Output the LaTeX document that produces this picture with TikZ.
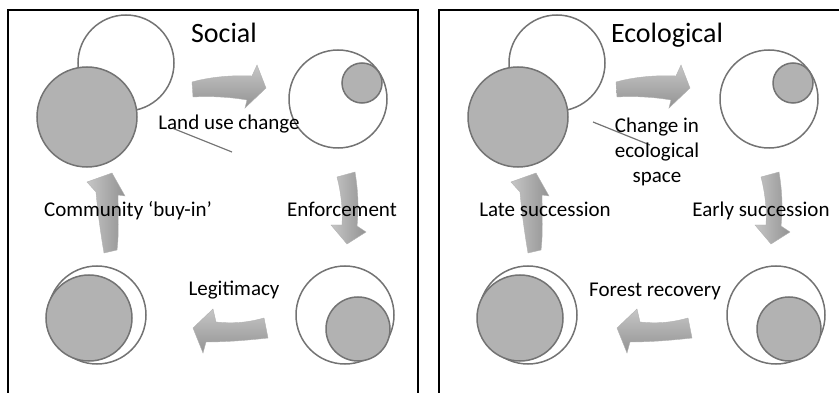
\documentclass[tikz,border=0pt]{standalone}
\usepackage{fontspec}
\setmainfont{Carlito}

\definecolor{rimgray}{gray}{0.45}
\definecolor{blobgray}{gray}{0.70}

\begin{document}
\begin{tikzpicture}[x=1pt, y=-1pt,
    frame/.style={draw=black, line width=1.6pt},
    ring/.style={draw=rimgray, line width=1.5pt, fill=white},
    blob/.style={draw=rimgray, line width=1.5pt, fill=blobgray},
    hbend/.style={draw=gray!60, line width=0.4pt, top color=gray!45, middle color=white, bottom color=gray!85},
    vbend/.style={draw=gray!60, line width=0.4pt, left color=gray!45, middle color=white, right color=gray!85},
    txt/.style={font=\fontsize{21}{25}\selectfont, anchor=base},
    head/.style={font=\fontsize{28}{32}\selectfont, anchor=base}]

    \useasboundingbox (0,0) rectangle (839,393);

    % Draw panel frames
    \draw[frame] (8,393) -- (8,10) -- (418,10) -- (418,393);
    \draw[frame] (439,393) -- (439,10) -- (839,10);

    % Define coordinates
    \coordinate (soc1a) at (126,63);
    \coordinate (soc1b) at (87,117);
    \coordinate (soc2a) at (338,99);
    \coordinate (soc2b) at (362,83);
    \coordinate (soc3a) at (345,315);
    \coordinate (soc3b) at (358,329);
    \coordinate (soc4a) at (97,315);
    \coordinate (soc4b) at (89,318);
    \coordinate (eco1a) at (557,63);
    \coordinate (eco1b) at (518,117);
    \coordinate (eco2a) at (769,99);
    \coordinate (eco2b) at (793,83);
    \coordinate (eco3a) at (776,315);
    \coordinate (eco3b) at (789,329);
    \coordinate (eco4a) at (528,315);
    \coordinate (eco4b) at (520,318);
    \coordinate (socl1) at (172,128);
    \coordinate (socl2) at (232,152);
    \coordinate (ecol1) at (593,122);
    \coordinate (ecol2) at (650,145);

    % Draw circles, social side
    \filldraw[ring] (soc1a) circle (48pt);
    \filldraw[blob] (soc1b) circle (50pt);
    \filldraw[ring] (soc2a) circle (49pt);
    \filldraw[blob] (soc2b) circle (20pt);
    \filldraw[ring] (soc3a) circle (49pt);
    \filldraw[blob] (soc3b) circle (32pt);
    \filldraw[ring] (soc4a) circle (49pt);
    \filldraw[blob] (soc4b) circle (43pt);

    % Draw circles, ecological side
    \filldraw[ring] (eco1a) circle (48pt);
    \filldraw[blob] (eco1b) circle (50pt);
    \filldraw[ring] (eco2a) circle (49pt);
    \filldraw[blob] (eco2b) circle (20pt);
    \filldraw[ring] (eco3a) circle (49pt);
    \filldraw[blob] (eco3b) circle (32pt);
    \filldraw[ring] (eco4a) circle (49pt);
    \filldraw[blob] (eco4b) circle (43pt);

    % Stray lines
    \draw[rimgray, line width=1.2pt] (socl1) -- (socl2);
    \draw[rimgray, line width=1.2pt] (ecol1) -- (ecol2);

    % Block arrows, social side
    \begin{scope}
        \shade[hbend] (192,82) .. controls (210,77) and (232,75) .. (252,76) -- (257,65) -- (266,88)
            -- (245,108) -- (247,100) .. controls (230,97) and (210,96) .. (193,97) -- cycle;
        \shade[vbend] (337,177) -- (355,172) .. controls (358,190) and (359,208) .. (357,226) -- (366,232)
            -- (347,244) -- (331,225) -- (342,225) .. controls (343,210) and (341,192) .. (337,177) -- cycle;
        \shade[hbend] (193,328) -- (213,309) -- (216,322) .. controls (235,324) and (250,322) .. (264,318)
            -- (268,338) .. controls (250,340) and (228,342) .. (206,342) -- (203,353) -- cycle;
        \shade[vbend] (112,173) -- (125,196) -- (118,195) .. controls (118,215) and (119,235) .. (117,250)
            -- (104,253) .. controls (101,235) and (98,215) .. (96,192) -- (87,182) -- cycle;
    \end{scope}

    % Block arrows, ecological side
    \begin{scope}[xshift=424pt]
        \shade[hbend] (192,82) .. controls (210,77) and (232,75) .. (252,76) -- (257,65) -- (266,88)
            -- (245,108) -- (247,100) .. controls (230,97) and (210,96) .. (193,97) -- cycle;
        \shade[vbend] (337,177) -- (355,172) .. controls (358,190) and (359,208) .. (357,226) -- (366,232)
            -- (347,244) -- (331,225) -- (342,225) .. controls (343,210) and (341,192) .. (337,177) -- cycle;
        \shade[hbend] (193,328) -- (213,309) -- (216,322) .. controls (235,324) and (250,322) .. (264,318)
            -- (268,338) .. controls (250,340) and (228,342) .. (206,342) -- (203,353) -- cycle;
        \shade[vbend] (112,173) -- (125,196) -- (118,195) .. controls (118,215) and (119,235) .. (117,250)
            -- (104,253) .. controls (101,235) and (98,215) .. (96,192) -- (87,182) -- cycle;
    \end{scope}

    % Titles and labels
    \node[head] (social) at (224,43) {Social};
    \node[head] (ecological) at (667,43) {Ecological};
    \node[txt] (landuse) at (229,130) {Land use change};
    \node[txt] (enforce) at (342,217) {Enforcement};
    \node[txt] (legit) at (234,295) {Legitimacy};
    \node[txt] (buyin) at (128,217) {Community ‘buy-in’};
    \node[txt, anchor=center, align=center] (ecospace) at (657,152) {Change in\\ecological\\space};
    \node[txt] (early) at (761,217) {Early succession};
    \node[txt] (recovery) at (655,296) {Forest recovery};
    \node[txt] (late) at (545,217) {Late succession};

\end{tikzpicture}
\end{document}
